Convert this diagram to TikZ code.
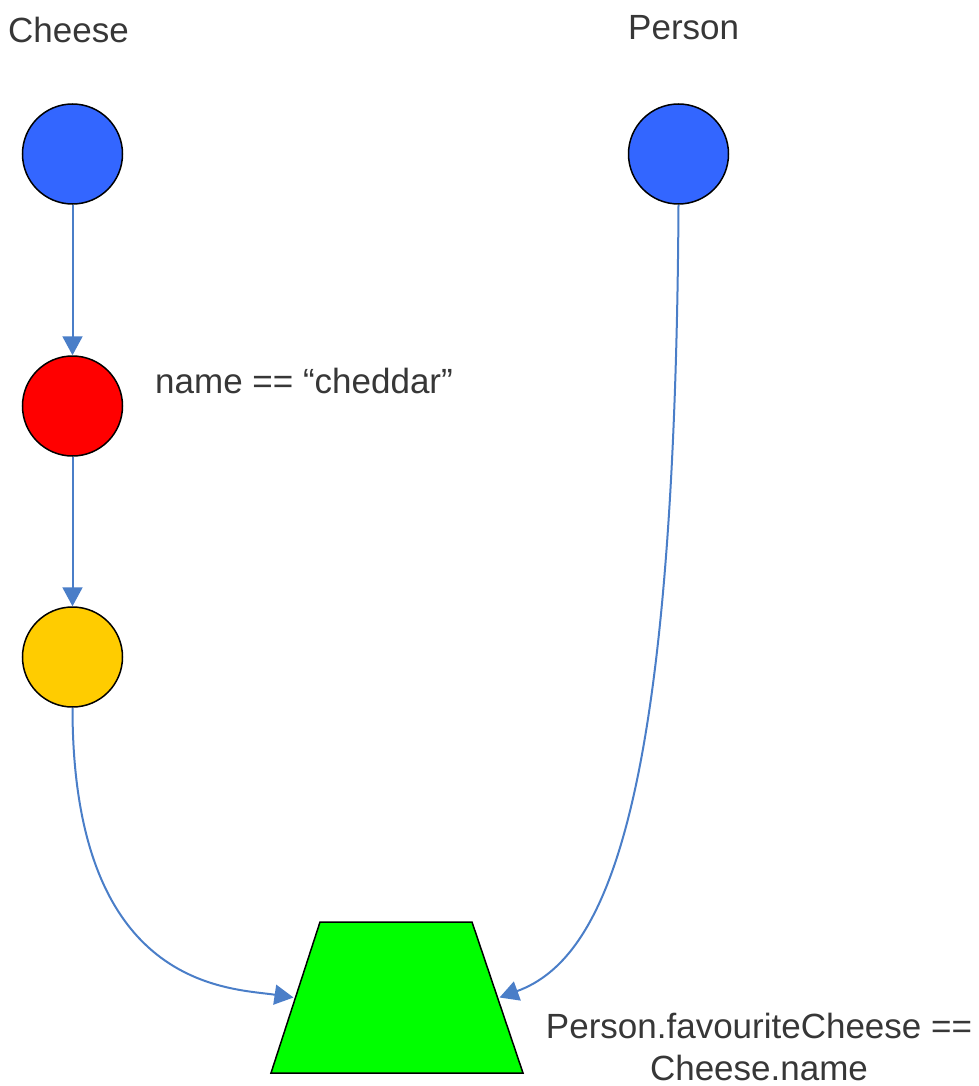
\documentclass[tikz,border=0pt]{standalone}
\usepackage{fontspec}
\setmainfont{Liberation Sans}
\usetikzlibrary{arrows.meta,calc}
\definecolor{cblue}{RGB}{51,102,255}
\definecolor{cred}{RGB}{255,0,0}
\definecolor{cyellow}{RGB}{255,204,0}
\definecolor{cgreen}{RGB}{0,255,0}
\definecolor{carrow}{RGB}{74,126,200}
\definecolor{ctext}{RGB}{55,55,55}
\tikzset{
  ball/.style={circle,draw=black,line width=1.5pt,minimum size=100pt,inner sep=0pt},
  lbl/.style={text=ctext,inner sep=0pt,font=\fontsize{35}{42}\selectfont},
  conn/.style={draw=carrow,line width=2pt,-{Triangle[length=19pt,width=20pt]}},
  joinbox/.style={draw=black,fill=cgreen,line width=1.5pt,line join=miter}
}
\begin{document}
\begin{tikzpicture}[x=1pt,y=-1pt]
\useasboundingbox (0,0) rectangle (979,1086);
\node[lbl,anchor=base west] (tcheese) at (8,43) {Cheese};
\node[lbl,anchor=base west] (tperson) at (628,40) {Person};
\node[ball,fill=cblue] (c1) at (72.5,154) {};
\node[ball,fill=cred] (c2) at (72.5,406) {};
\node[ball,fill=cyellow] (c3) at (72.5,657) {};
\node[ball,fill=cblue] (p1) at (678.5,154) {};
\node[lbl,anchor=base west] (tname) at (155,393) {name == “cheddar{\char"22}};
\coordinate (tl) at (320,922);
\coordinate (tr) at (472,922);
\coordinate (br) at (523,1073);
\coordinate (bl) at (271,1073);
\path[joinbox] (tl) -- (tr) -- (br) -- (bl) -- cycle;
\coordinate (joinW) at ($(tl)!0.5!(bl)+(-2,0)$);
\coordinate (joinE) at ($(tr)!0.5!(br)+(2,0)$);
\node[lbl,anchor=base,align=center] (tjoin) at (759,1080) {Person.favouriteCheese ==\\Cheese.name};
\draw[conn] (c1) -- (c2);
\draw[conn] (c2) -- (c3);
\draw[conn] (c3.south) .. controls (72.5,990) and (230,988) .. (joinW);
\draw[conn] (p1.south) .. controls (675,800) and (608,958) .. (joinE);
\end{tikzpicture}
\end{document}
